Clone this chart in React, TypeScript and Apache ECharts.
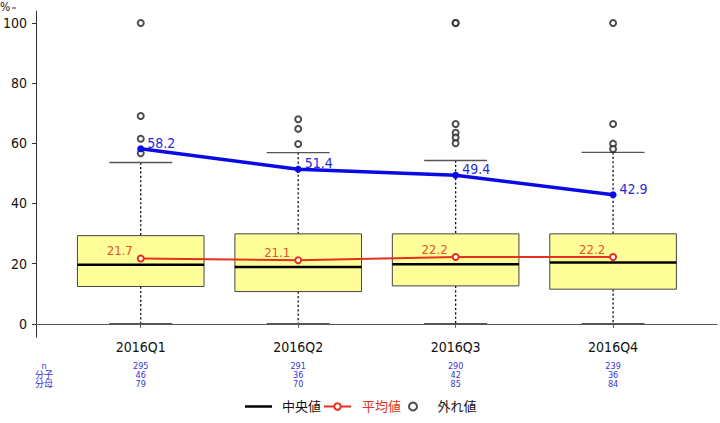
import React, { useEffect, useRef } from "react";
import * as echarts from "echarts";

const categories = ["2016Q1", "2016Q2", "2016Q3", "2016Q4"];
const whiskerLow = [0, 0, 0, 0];
const quartile1 = [12.4, 10.7, 12.6, 11.5];
const medians = [19.6, 18.9, 19.8, 20.4];
const quartile3 = [29.3, 29.9, 29.9, 29.9];
const whiskerHigh = [53.6, 56.9, 54.3, 57.0];
const meanValues = [21.7, 21.1, 22.2, 22.2];
const blueValues = [58.2, 51.4, 49.4, 42.9];
const outlierPoints: [number, number][] = [
  [1, 100], [1, 69.1], [1, 61.5], [1, 56.7],
  [2, 68.0], [2, 64.8], [2, 59.8],
  [3, 100], [3, 100], [3, 66.4], [3, 63.5], [3, 61.9], [3, 60.0],
  [4, 100], [4, 66.4], [4, 59.9], [4, 58.1],
];
const nValues = [295, 291, 290, 239];
const numerators = [46, 36, 42, 36];
const denominators = [79, 70, 85, 84];
const yTicks = [0, 20, 40, 60, 80, 100];
const xTicks = [1, 2, 3, 4];
const rowLabels = ["n", "分子", "分母"];

const FONT = "'Liberation Sans Narrow', 'DejaVu Sans Condensed', 'Noto Sans CJK JP', sans-serif";
const RED = "#E4321E";
const BLUE = "#0A0AE6";
const COUNT_BLUE = "#3535D8";
const ROW_STEP = 9;
const ROW_FONT = 9;

export default function App() {
  const ref = useRef<HTMLDivElement>(null);
  useEffect(() => {
    if (!ref.current) return;
    const chart = echarts.init(ref.current, null, { renderer: "svg" });
    const X_MIN = 0.335;
    const X_MAX = 4.66;
    const Y_MIN = -4.5;
    const Y_MAX = 104;
    const boxData = categories.map((_, i) => [
      i + 1, whiskerLow[i], quartile1[i], medians[i], quartile3[i], whiskerHigh[i],
    ]);
    const legendBase = {
      top: 400,
      padding: 0,
      itemWidth: 27,
      itemHeight: 8,
      itemGap: 0,
    };
    const option: any = {
      animation: false,
      textStyle: { fontFamily: FONT },
      grid: { left: 34, right: 3, top: 11, bottom: 85.7, containLabel: false },
      xAxis: {
        type: "value",
        min: X_MIN,
        max: X_MAX,
        splitLine: { show: false },
        axisLine: { lineStyle: { color: "#555", width: 1 } },
        axisTick: { show: true, customValues: xTicks, length: 4, lineStyle: { color: "#555" } },
        axisLabel: {
          customValues: xTicks,
          formatter: (v: number) => categories[Math.round(v) - 1] ?? "",
          color: "#111",
          fontSize: 14,
          fontFamily: FONT,
          margin: 3,
        },
      },
      yAxis: {
        type: "value",
        min: Y_MIN,
        max: Y_MAX,
        splitLine: { show: false },
        axisLine: { show: true, lineStyle: { color: "#333", width: 1 } },
        axisTick: { show: true, customValues: yTicks, length: 4, lineStyle: { color: "#333" } },
        axisLabel: {
          customValues: yTicks,
          color: "#111",
          fontSize: 14,
          fontFamily: FONT,
          margin: 9,
        },
      },
      legend: [
        {
          ...legendBase,
          left: 245,
          data: [{ name: "中央値", icon: "path://M0,0H27V2.5H0Z" }],
          textStyle: { color: "#111", fontSize: 13, fontFamily: FONT, padding: [0, 0, 0, 5] },
        },
        {
          ...legendBase,
          left: 323,
          data: [{ name: "平均値" }],
          textStyle: { color: RED, fontSize: 13, fontFamily: FONT, padding: [0, 0, 0, 6] },
        },
        {
          ...legendBase,
          left: 408,
          data: [{ name: "外れ値" }],
          textStyle: { color: "#111", fontSize: 13, fontFamily: FONT, padding: [0, 0, 0, 6] },
        },
      ],
      graphic: [
        { type: "text", left: 0, top: 1, style: { text: "%", fontSize: 12, fontFamily: FONT, fill: "#111" } },
        { type: "line", shape: { x1: 12, y1: 8, x2: 16, y2: 8 }, style: { stroke: "#333", lineWidth: 1 } },
        ...rowLabels.map((t, i) => ({
          type: "text",
          x: 44,
          y: 365.5 + i * ROW_STEP,
          style: {
            text: t,
            fontSize: ROW_FONT,
            fontFamily: FONT,
            fill: COUNT_BLUE,
            align: "center",
            verticalAlign: "middle",
          },
        })),
      ],
      series: [
        {
          name: "box",
          type: "custom",
          data: boxData,
          z: 2,
          renderItem: (params: any, api: any) => {
            const x = api.value(0);
            const [cx, yLow] = api.coord([x, api.value(1)]);
            const yQ1 = api.coord([x, api.value(2)])[1];
            const yQ3 = api.coord([x, api.value(4)])[1];
            const yHigh = api.coord([x, api.value(5)])[1];
            const halfW = api.size([0.402, 0])[0];
            const capW = api.size([0.2, 0])[0];
            const dash = { stroke: "#111", lineWidth: 1.3, lineDash: [2.2, 2.2] };
            const cap = { stroke: "#555", lineWidth: 1.4 };
            return {
              type: "group",
              children: [
                { type: "line", shape: { x1: cx, y1: yHigh, x2: cx, y2: yQ3 }, style: dash },
                { type: "line", shape: { x1: cx, y1: yQ1, x2: cx, y2: yLow }, style: dash },
                { type: "line", shape: { x1: cx - capW, y1: yHigh, x2: cx + capW, y2: yHigh }, style: cap },
                { type: "line", shape: { x1: cx - capW, y1: yLow, x2: cx + capW, y2: yLow }, style: cap },
                {
                  type: "rect",
                  shape: { x: cx - halfW, y: yQ3, width: halfW * 2, height: yQ1 - yQ3 },
                  style: { fill: "#FFFF99", stroke: "#444", lineWidth: 1 },
                },
              ],
            };
          },
        },
        {
          name: "中央値",
          type: "custom",
          data: medians.map((m, i) => [i + 1, m]),
          itemStyle: { color: "#000" },
          z: 3,
          renderItem: (params: any, api: any) => {
            const [cx, cy] = api.coord([api.value(0), api.value(1)]);
            const halfW = api.size([0.402, 0])[0];
            return {
              type: "line",
              shape: { x1: cx - halfW, y1: cy, x2: cx + halfW, y2: cy },
              style: { stroke: "#000", lineWidth: 2.5 },
            };
          },
        },
        {
          name: "counts",
          type: "custom",
          data: categories.map((_, i) => [i + 1, nValues[i], numerators[i], denominators[i]]),
          clip: false,
          silent: true,
          renderItem: (params: any, api: any) => {
            const [cx, yb] = api.coord([api.value(0), Y_MIN]);
            return {
              type: "group",
              children: [1, 2, 3].map((k, j) => ({
                type: "text",
                x: cx,
                y: yb + 28.2 + j * ROW_STEP,
                style: {
                  text: String(api.value(k)),
                  fontSize: ROW_FONT,
                  fontFamily: FONT,
                  fill: COUNT_BLUE,
                  align: "center",
                  verticalAlign: "middle",
                },
              })),
            };
          },
        },
        {
          name: "平均値",
          type: "line",
          data: meanValues.map((v, i) => [i + 1, v]),
          z: 5,
          symbol: "emptyCircle",
          symbolSize: 6,
          lineStyle: { color: RED, width: 2 },
          itemStyle: { color: RED, borderColor: RED, borderWidth: 2 },
          label: {
            show: true,
            position: "left",
            distance: 4,
            offset: [0, -8],
            color: "#E8502E",
            fontSize: 13,
            fontFamily: FONT,
            formatter: (p: any) => p.value[1].toFixed(1),
          },
        },
        {
          name: "blue",
          type: "line",
          data: blueValues.map((v, i) => [i + 1, v]),
          z: 6,
          symbol: "circle",
          symbolSize: 7,
          lineStyle: { color: BLUE, width: 3.5 },
          itemStyle: { color: BLUE },
          label: {
            show: true,
            position: "right",
            distance: 3,
            offset: [0, -6],
            color: "#2A2AD4",
            fontSize: 14,
            fontFamily: FONT,
            formatter: (p: any) => p.value[1].toFixed(1),
          },
        },
        {
          name: "外れ値",
          type: "scatter",
          data: outlierPoints,
          z: 4,
          symbol: "emptyCircle",
          symbolSize: 6,
          itemStyle: { color: "#222", borderColor: "#222", borderWidth: 1 },
        },
      ],
    };
    chart.setOption(option);
    return () => chart.dispose();
  }, []);
  return <div ref={ref} style={{ width: 720, height: 423, position: "absolute", left: 0, top: 0 }} />;
}
